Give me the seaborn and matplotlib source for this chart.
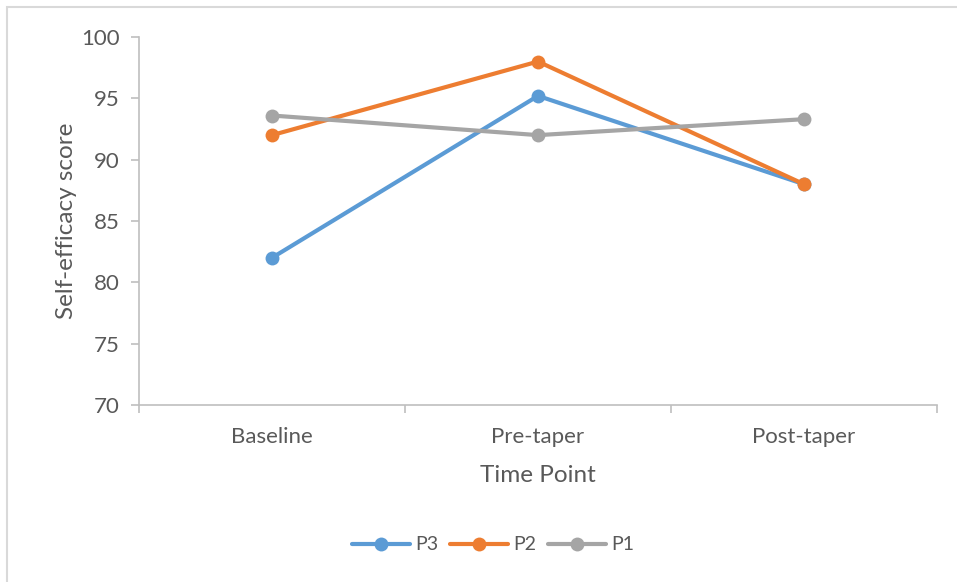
import matplotlib
matplotlib.use("Agg")
import matplotlib.pyplot as plt
from matplotlib.patches import Rectangle
import seaborn as sns
import pandas as pd

# ---- data ----
time_points = ["Baseline", "Pre-taper", "Post-taper"]
series_names = ["P3", "P2", "P1"]
p3_values = [82.0, 95.2, 88.0]
p2_values = [92.0, 98.0, 88.0]
p1_values = [93.6, 92.0, 93.3]
y_ticks = [70, 75, 80, 85, 90, 95, 100]

colors = {"P3": "#5B9BD5", "P2": "#ED7D31", "P1": "#A5A5A5"}

df = pd.DataFrame({
    "Time Point": time_points * 3,
    "Series": ["P3"] * 3 + ["P2"] * 3 + ["P1"] * 3,
    "Self-efficacy score": p3_values + p2_values + p1_values,
})

sns.set_theme(style="white")
plt.rcParams["font.family"] = ["Lato", "DejaVu Sans"]

text_col = "#595959"
axis_col = "#BFBFBF"

fig = plt.figure(figsize=(9.57, 5.82), dpi=100)
ax = fig.add_axes([139 / 957, 1 - 405 / 582, (937 - 139) / 957, (405 - 37) / 582])

sns.lineplot(data=df, x="Time Point", y="Self-efficacy score", hue="Series",
             hue_order=series_names, palette=colors, marker="o", markersize=10,
             markeredgewidth=0, linewidth=3, sort=False, ax=ax, legend=True)

ax.set_xlim(-0.5, 2.5)
ax.set_ylim(70, 100)
ax.set_yticks(y_ticks)
ax.set_xticks(range(3))
ax.set_xticklabels(time_points)
ax.set_xticks([-0.5, 0.5, 1.5, 2.5], minor=True)

for side in ["top", "right"]:
    ax.spines[side].set_visible(False)
for side in ["left", "bottom"]:
    ax.spines[side].set_color(axis_col)
    ax.spines[side].set_linewidth(1.2)

ax.tick_params(axis="y", which="major", direction="out", length=6, width=1.2,
               color=axis_col, labelsize=16, labelcolor=text_col, pad=8, left=True)
ax.tick_params(axis="x", which="major", length=0, labelsize=16, labelcolor=text_col, pad=16)
ax.tick_params(axis="x", which="minor", direction="out", length=6, width=1.2,
               color=axis_col, bottom=True)

ax.set_xlabel("Time Point", fontsize=17.5, color=text_col, labelpad=13)
ax.set_ylabel("Self-efficacy score", fontsize=17.5, color=text_col, labelpad=3)
ax.grid(False)

handles, labels = ax.get_legend_handles_labels()
ax.get_legend().remove()
fig.legend(handles, labels, loc="center", bbox_to_anchor=(493 / 957, 1 - 545 / 582),
           ncol=3, frameon=False, fontsize=14, labelcolor=text_col,
           handlelength=3.0, handletextpad=0.25, columnspacing=0.6)

# chart area border (left and top visible, clipped by image)
fig.patches.append(Rectangle((7 / 957, -0.1), 1.2, 1 - 7 / 582 + 0.1,
                             transform=fig.transFigure, fill=False,
                             edgecolor="#D9D9D9", linewidth=1.5))

fig.savefig("out.png", dpi=100)
